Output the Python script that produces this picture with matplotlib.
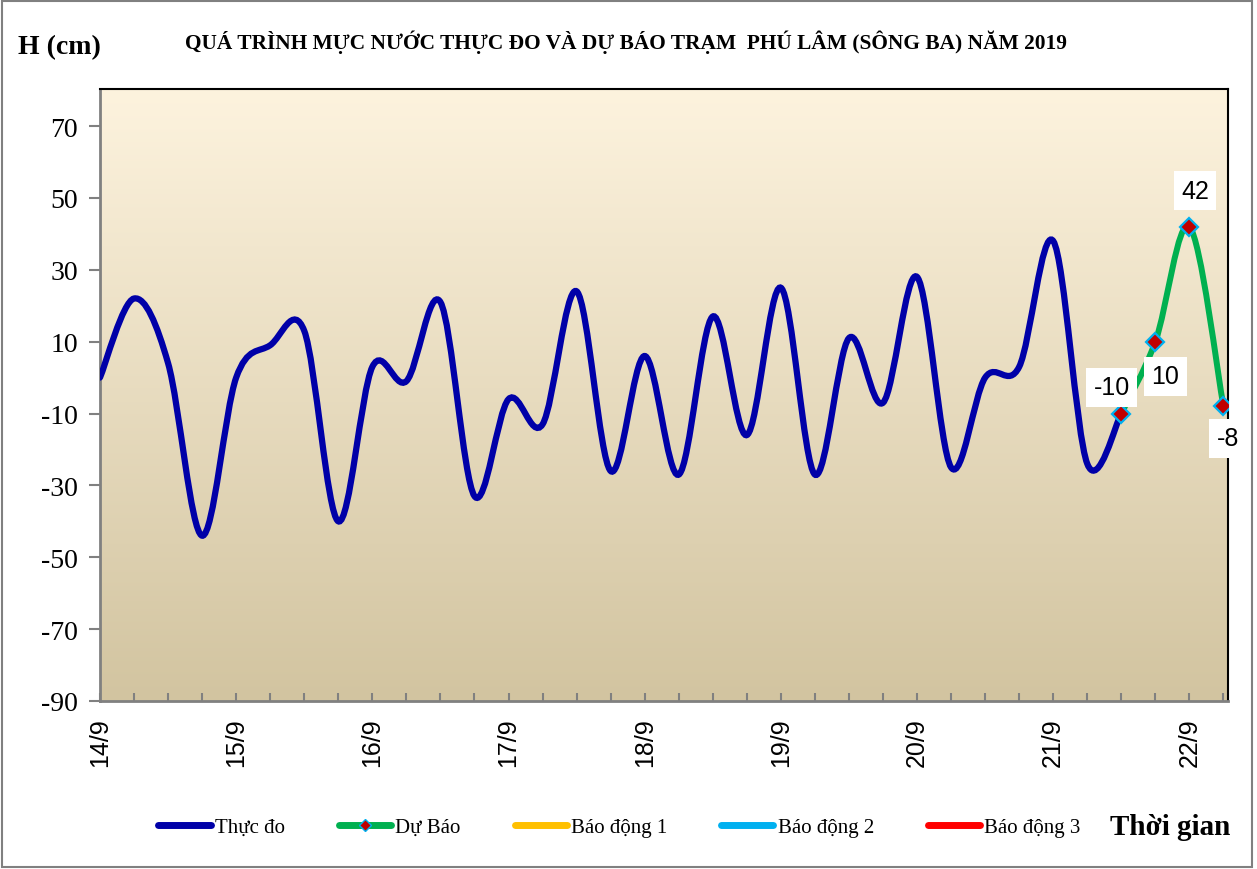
import matplotlib.pyplot as plt
from matplotlib.path import Path
from matplotlib.patches import PathPatch, Rectangle
from matplotlib.lines import Line2D
import numpy as np

# water level (cm), one value every 6 hours from 14/9 00h
observed = [0, 22, 4, -44, 0, 9, 13, -40, 3, -1, 21, -33, -6, -13, 24, -26,
            6, -27, 17, -16, 25, -27, 11, -7, 28, -25, 0, 3, 38, -24, -10]
forecast = [-10, 10, 42, -8]
day_labels = ['14/9', '15/9', '16/9', '17/9', '18/9', '19/9', '20/9', '21/9', '22/9']
step_h = 6

blue = '#0000A8'
green = '#00B050'
alarm_colors = ['#FFC000', '#00B0F0', '#FF0000']
alarm_names = ['Báo động 1', 'Báo động 2', 'Báo động 3']


# smooth curve like Excel's "smoothed line": cubic bezier through the points
def smooth_path(x, y):
    pts = np.column_stack([x, y]).astype(float)
    n = len(pts)
    verts = [pts[0]]
    codes = [Path.MOVETO]
    for i in range(n - 1):
        p0 = pts[i - 1] if i > 0 else pts[i]
        p1 = pts[i]
        p2 = pts[i + 1]
        p3 = pts[i + 2] if i + 2 < n else pts[i + 1]
        c1 = p1 + (p2 - p0) / 6.0
        c2 = p2 - (p3 - p1) / 6.0
        verts += [c1, c2, p2]
        codes += [Path.CURVE4] * 3
    return Path(verts, codes)


fig = plt.figure(figsize=(12.57, 8.70), dpi=100)
ax = fig.add_axes([100 / 1257, 1 - 702 / 870, 1128 / 1257, 612 / 870])

x_obs = np.arange(len(observed)) * step_h
x_fc = (len(observed) - 1 + np.arange(len(forecast))) * step_h
xmax = 198.8
ymin, ymax = -90, 80.3

# background gradient
top = np.array([253, 243, 222]) / 255
bot = np.array([210, 196, 160]) / 255
t = np.linspace(0, 1, 256)[:, None]
grad = (top * (1 - t) + bot * t)[:, None, :]
ax.imshow(grad, extent=[0, xmax, ymin, ymax], aspect='auto', zorder=0)

ax.add_patch(PathPatch(smooth_path(x_obs, observed), fill=False, edgecolor=blue,
                       lw=4.5, capstyle='round', zorder=3))
ax.add_patch(PathPatch(smooth_path(x_fc, forecast), fill=False, edgecolor=green,
                       lw=4.3, capstyle='round', zorder=4))
ax.plot(x_fc, forecast, ls='none', marker='D', ms=9, mfc='#C00000', mec='#00B0F0',
        mew=1.6, zorder=5)

offsets = [(-7, 19), (7, -25), (4, 26), (3, -23)]
for xv, yv, off in zip(x_fc, forecast, offsets):
    ax.annotate(str(yv), (xv, yv), xytext=off, textcoords='offset points',
                ha='center', va='center', fontsize=18, family='Liberation Sans',
                bbox=dict(boxstyle='square,pad=0.3', fc='white', ec='none'),
                zorder=6, annotation_clip=False)

ax.set_xlim(0, xmax)
ax.set_ylim(ymin, ymax)
ax.set_xticks(np.arange(len(day_labels)) * 24)
ax.set_xticklabels(day_labels, rotation=90, family='Liberation Sans', fontsize=18)
ax.set_xticks(np.arange(0, xmax, step_h), minor=True)
ax.tick_params(axis='x', which='both', direction='in', length=6, width=1.5,
               color='#808080', pad=12)
ax.set_yticks(np.arange(-90, 71, 20))
ax.set_yticklabels([str(v) for v in range(-90, 71, 20)], family='Liberation Serif',
                   fontsize=20)
ax.tick_params(axis='y', direction='out', length=8, width=1.5, color='#808080', pad=8)

for s in ['left', 'bottom']:
    ax.spines[s].set_color('#808080')
    ax.spines[s].set_linewidth(2)
for s in ['top', 'right']:
    ax.spines[s].set_color('black')
    ax.spines[s].set_linewidth(1.5)

fig.text(0.498, 0.951, 'QUÁ TRÌNH MỰC NƯỚC THỰC ĐO VÀ DỰ BÁO TRẠM  PHÚ LÂM (SÔNG BA) NĂM 2019',
         ha='center', va='center', family='Liberation Serif', fontweight='bold',
         fontsize=15.4)
fig.text(18 / 1257, 1 - 48 / 870, 'H (cm)', ha='left', va='center',
         family='Liberation Serif', fontweight='bold', fontsize=20)
fig.text(1230 / 1257, 1 - 828 / 870, 'Thời gian', ha='right', va='center',
         family='Liberation Serif', fontweight='bold', fontsize=21)

handles = [Line2D([], [], color=blue, lw=5, solid_capstyle='round'),
           Line2D([], [], color=green, lw=5, solid_capstyle='round', marker='D',
                  ms=6, mfc='#C00000', mec='#00B0F0', markevery=[1])]
handles[1].set_data([0, 1, 2], [0, 0, 0])
handles += [Line2D([], [], color=c, lw=5, solid_capstyle='round') for c in alarm_colors]
labels = ['Thực đo', 'Dự Báo'] + alarm_names
fig.legend(handles, labels, ncol=5, loc='center left', bbox_to_anchor=(148 / 1257, 1 - 828 / 870),
           frameon=False, prop={'family': 'Liberation Serif', 'size': 15},
           handlelength=2.5, handletextpad=0.2, columnspacing=2.6, borderpad=0)

fig.add_artist(Rectangle((2 / 1257, 2 / 870), 1250 / 1257, 866 / 870, transform=fig.transFigure,
                         fill=False, ec='#808080', lw=1.5))

fig.savefig('out.png', dpi=100)
